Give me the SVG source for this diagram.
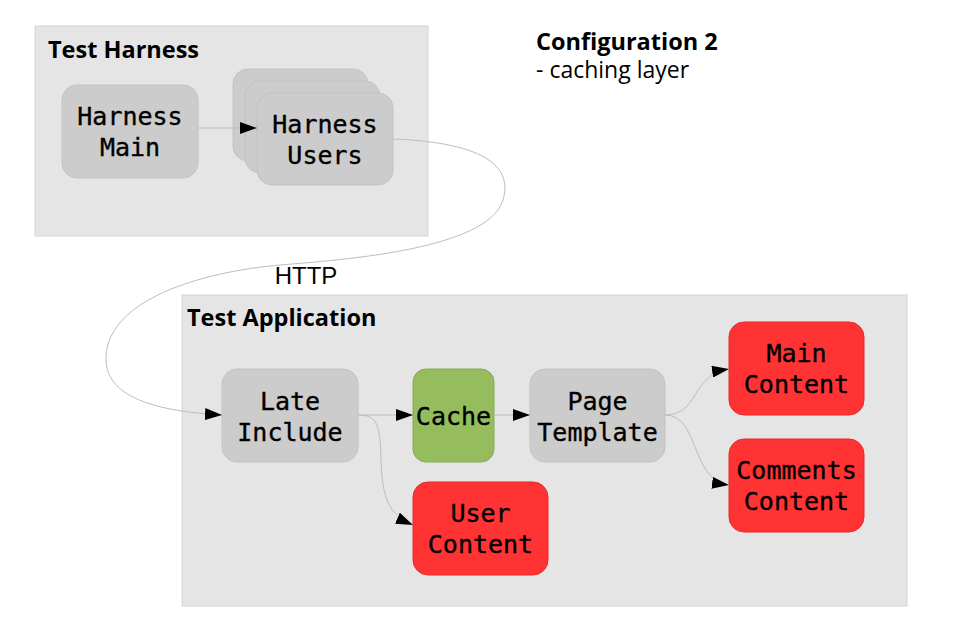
<svg xmlns="http://www.w3.org/2000/svg" width="957" height="638" viewBox="0 0 957 638">
<style>
.cluster{fill:#e5e5e5;stroke:#d4d4d4;stroke-width:1}
.ctitle{font-family:"Open Sans","Noto Sans",sans-serif;font-weight:bold;font-size:23.5px;fill:#000}
.gray{fill:#cccccc;stroke:#c2c2c2;stroke-width:1}
.green{fill:#95bd5e;stroke:#86ad50;stroke-width:1}
.red{fill:#ff3333;stroke:#e82a2a;stroke-width:1}
.lbl{font-family:"DejaVu Sans Mono",monospace;font-size:25px;fill:#000;stroke:#000;stroke-width:0.35;text-anchor:middle}
.edge{fill:none;stroke:#bdbdbd;stroke-width:1}
</style>
<defs>
<marker id="arr" viewBox="0 0 17 12" refX="17" refY="6" markerWidth="17" markerHeight="12" markerUnits="userSpaceOnUse" orient="auto">
<path d="M0,0 L17,6 L0,12 Z" fill="#000"/>
</marker>
</defs>
<rect width="957" height="638" fill="#fff"/>

<g id="cluster-harness">
<rect class="cluster" x="35" y="26" width="393" height="210"/>
<text class="ctitle" x="48" y="58">Test Harness</text>
</g>
<g id="cluster-app">
<rect class="cluster" x="182" y="295" width="725" height="311"/>
<text class="ctitle" x="187" y="326">Test Application</text>
</g>

<g id="config-label">
<text class="ctitle" x="536" y="50">Configuration 2</text>
<text x="536" y="78" font-family="'Open Sans','Noto Sans',sans-serif" font-size="23" fill="#000">- caching layer</text>
</g>

<g id="harness-main">
<rect class="gray" x="62" y="85" width="136" height="93" rx="15"/>
<text class="lbl" x="130" y="125">Harness</text>
<text class="lbl" x="130" y="156">Main</text>
</g>

<g id="harness-users">
<rect class="gray" x="233" y="69" width="135" height="92" rx="15"/>
<rect class="gray" x="245" y="81" width="135" height="92" rx="15"/>
<rect class="gray" x="257" y="93" width="136" height="92" rx="15"/>
<text class="lbl" x="325" y="133">Harness</text>
<text class="lbl" x="325" y="164">Users</text>
</g>

<g id="late-include">
<rect class="gray" x="222" y="369" width="136" height="93" rx="15"/>
<text class="lbl" x="290" y="410">Late</text>
<text class="lbl" x="290" y="441">Include</text>
</g>

<g id="cache">
<rect class="green" x="413" y="369" width="81" height="93" rx="13"/>
<text class="lbl" x="453.5" y="425">Cache</text>
</g>

<g id="page-template">
<rect class="gray" x="530" y="369" width="135" height="93" rx="15"/>
<text class="lbl" x="597.5" y="410">Page</text>
<text class="lbl" x="597.5" y="441">Template</text>
</g>

<g id="main-content">
<rect class="red" x="729" y="322" width="135" height="93" rx="15"/>
<text class="lbl" x="796.5" y="362">Main</text>
<text class="lbl" x="796.5" y="393">Content</text>
</g>

<g id="comments-content">
<rect class="red" x="729" y="439" width="135" height="93" rx="15"/>
<text class="lbl" x="796.5" y="479">Comments</text>
<text class="lbl" x="796.5" y="510">Content</text>
</g>

<g id="user-content">
<rect class="red" x="413" y="482" width="135" height="93" rx="15"/>
<text class="lbl" x="480.5" y="522">User</text>
<text class="lbl" x="480.5" y="553">Content</text>
</g>

<g id="connectors">
<path class="edge" d="M198,128 L257,128" marker-end="url(#arr)"/>
<path class="edge" d="M393,139 C470,142 515,160 503,200 C488,250 340,260 280,265 C200,272 108,300 106,357 C104,402 170,412 222,415" marker-end="url(#arr)"/>
<text x="306" y="284" font-family="'Liberation Sans',Arial,sans-serif" font-size="24" fill="#000" text-anchor="middle">HTTP</text>
<path class="edge" d="M358,415 L413,415" marker-end="url(#arr)"/>
<path class="edge" d="M358,415 C378,415 380,425 381,460 C382,500 390,515 413,525" marker-end="url(#arr)"/>
<path class="edge" d="M494,415 L530,415" marker-end="url(#arr)"/>
<path class="edge" d="M665,415 C700,415 690,375 729,369" marker-end="url(#arr)"/>
<path class="edge" d="M665,415 C700,415 690,480 729,485" marker-end="url(#arr)"/>
</g>
</svg>
